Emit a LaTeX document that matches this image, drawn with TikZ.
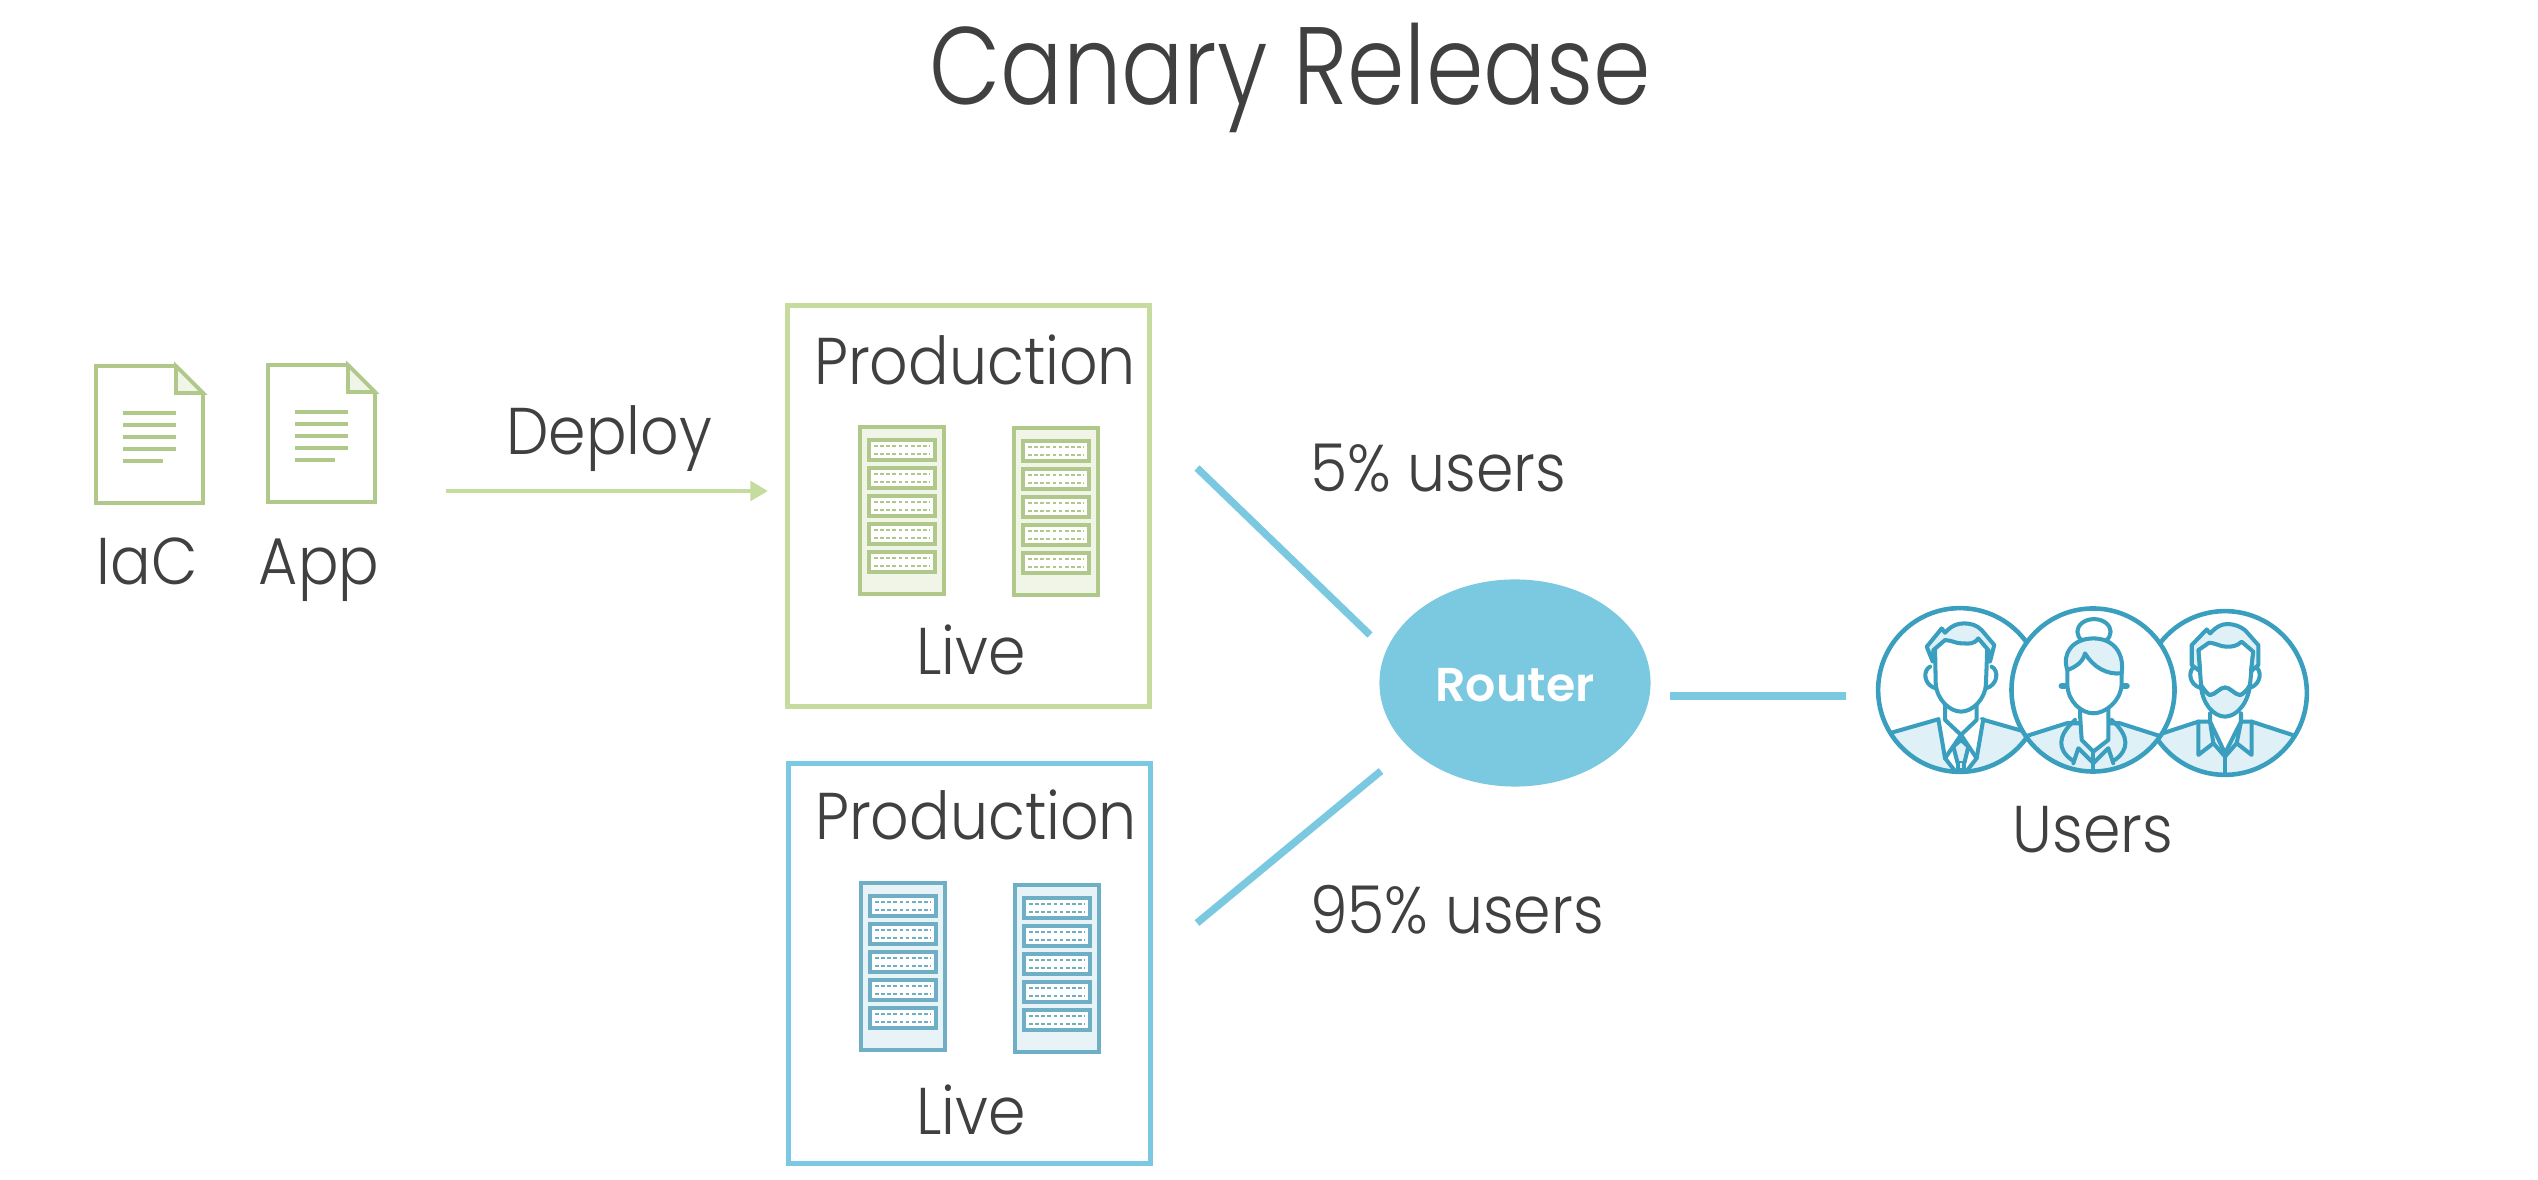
\documentclass[tikz,border=0pt]{standalone}
\usepackage{fontspec}
\setmainfont[FakeStretch=0.91]{Poppins Light}
\newfontfamily\titlefont[FakeStretch=0.84]{Poppins Light}
\newfontfamily\routerfont{Poppins SemiBold}
\usetikzlibrary{shapes.geometric,arrows.meta}
\definecolor{inkgray}{HTML}{404040}
\definecolor{livegreen}{HTML}{C6DC9E}
\definecolor{docgreen}{HTML}{B0C98A}
\definecolor{palegreen}{HTML}{F0F5E8}
\definecolor{liveblue}{HTML}{7AC9E0}
\definecolor{rackblue}{HTML}{6FAFC6}
\definecolor{paleblue}{HTML}{E8F3F7}
\definecolor{userteal}{HTML}{3A9FBF}
\definecolor{userpale}{HTML}{DFF0F7}
% rack: x, y, colour, pale colour
\newcommand{\rackicon}[4]{
    \begin{scope}[shift={(#1,#2)}]
        \draw[draw=#3, fill=#4, line width=1.1pt] (0,0) rectangle (84,167);
        \foreach \sloty in {13,41,69,97,125} {
            \draw[draw=#3, fill=white, line width=1.2pt] (9,\sloty) rectangle (75,\sloty+20);
            \draw[#3, line width=0.8pt, dash pattern=on 1.05pt off 0.7pt] (14,\sloty+6) -- (70,\sloty+6);
            \draw[#3, line width=0.8pt, dash pattern=on 1.05pt off 0.7pt] (14,\sloty+14) -- (70,\sloty+14);
        }
    \end{scope}
}
% document page: x, y
\newcommand{\docicon}[2]{
    \begin{scope}[shift={(#1,#2)}]
        \draw[draw=docgreen, fill=white, line width=1.1pt] (0,0) -- (80,0) -- (107,27) -- (107,137) -- (0,137) -- cycle;
        \draw[draw=docgreen, fill=palegreen, line width=1.1pt] (80,0) -- (107,27) -- (80,27) -- cycle;
        \foreach \liney in {47,59,71,83} {
            \draw[docgreen, line width=1.2pt] (27,\liney) -- (80,\liney);
        }
        \draw[docgreen, line width=1.2pt] (27,95) -- (67,95);
    \end{scope}
}
\begin{document}
\begin{tikzpicture}[
        x=0.01cm, y=-0.01cm,
        label/.style={anchor=base, text=inkgray, inner sep=0pt, font=\fontsize{18.8}{22}\selectfont},
        prodbox/.style={rectangle, fill=white, line width=1.45pt, minimum width=3.61cm, minimum height=4cm, inner sep=0pt},
        feed/.style={draw=liveblue, line width=2.1pt},
        person/.style={draw=userteal, line width=1.15pt, line cap=round, line join=round},
        personfill/.style={fill=userpale, draw=userteal, line width=1.15pt, line join=round},
        ring/.style={draw=userteal, line width=1.3pt}
    ]
    \useasboundingbox (0,0) rectangle (2538,1180);

    \node[anchor=base, text=inkgray, inner sep=0pt, font=\titlefont\fontsize{31.3}{36}\selectfont] (title) at (1290,105) {Canary Release};

    % artifacts
    \docicon{96}{366}
    \docicon{268}{365}
    \node[label] (iac) at (147,585) {IaC};
    \node[label] (app) at (319,585) {App};

    % deploy
    \coordinate (deploystart) at (446,491);
    \coordinate (deployend) at (768,491);
    \draw[draw=livegreen, line width=1.3pt, -{Triangle[length=5pt,width=5.5pt,fill=livegreen]}] (deploystart) -- (deployend);
    \node[label] (deploy) at (609,455) {Deploy};

    % production boxes
    \node[prodbox, draw=livegreen] (canarybox) at (968.5,506) {};
    \node[prodbox, draw=liveblue] (mainbox) at (969.5,963.5) {};
    \node[label] (prodcanary) at (975,385) {Production};
    \node[label] (livecanary) at (971,675) {Live};
    \node[label] (prodmain) at (976,840) {Production};
    \node[label] (livemain) at (971,1135) {Live};
    \rackicon{860}{427}{docgreen}{palegreen}
    \rackicon{1014}{428}{docgreen}{palegreen}
    \rackicon{861}{883}{rackblue}{paleblue}
    \rackicon{1015}{885}{rackblue}{paleblue}

    % router
    \node[ellipse, fill=liveblue, minimum width=2.71cm, minimum height=2.07cm, inner sep=0pt] (router) at (1515,683) {};
    \node[anchor=base, text=white, inner sep=0pt, font=\routerfont\fontsize{13.5}{15}\selectfont] (routerlabel) at (1515,702) {Router};
    \coordinate (canaryend) at (1197,468);
    \coordinate (canaryrouter) at (1370,635);
    \coordinate (mainend) at (1197,923);
    \coordinate (mainrouter) at (1381,771);
    \coordinate (usersrouter) at (1670,696);
    \coordinate (usersend) at (1846,696);
    \draw[feed] (canaryend) -- (canaryrouter);
    \draw[feed] (mainend) -- (mainrouter);
    \draw[feed] (usersrouter) -- (usersend);
    \node[label] (fivepct) at (1438,492) {5\% users};
    \node[label] (ninetyfivepct) at (1457,934) {95\% users};

    % first man
    \begin{scope}[shift={(1960,690)}, x=0.00333cm, y=-0.00333cm]
        \begin{scope}
            \clip (0,0) circle (246);
            \fill[white] (0,0) circle (246);
            \fill[userpale] (-300,155) -- (-65,88) -- (65,88) -- (300,155) -- (300,300) -- (-300,300) -- cycle;
            \draw[person] (-300,155) -- (-65,88);
            \draw[person] (300,155) -- (65,88);
            \draw[person, fill=white] (-65,88) -- (-45,205) -- (-10,250) -- (15,250) -- (50,205) -- (70,88);
            \draw[person] (-45,45) -- (-45,90) -- (3,135) -- (50,90) -- (50,45);
            \draw[person] (-45,205) -- (3,135) -- (50,205);
            \draw[person, fill=userpale] (-20,170) -- (3,150) -- (25,170) -- (13,220) -- (-7,220) -- cycle;
            \draw[person, fill=userpale] (-7,220) -- (-7,240) -- (13,240) -- (13,220);
        \end{scope}
        \draw[person] (-90,-70) .. controls (-112,-60) and (-110,-15) .. (-73,-5);
        \draw[person] (95,-70) .. controls (117,-60) and (115,-15) .. (78,-5);
        \draw[person, fill=white] (-75,-125) -- (-73,-20) .. controls (-70,30) and (-30,65) .. (3,65) .. controls (36,65) and (76,30) .. (78,-20) -- (82,-125);
        \draw[personfill] (-82,-85) -- (-100,-130) -- (-55,-185) -- (-45,-172) .. controls (-25,-195) and (-5,-200) .. (10,-200) .. controls (35,-200) and (50,-195) .. (65,-180) -- (103,-135) -- (90,-85) -- (85,-120) -- (55,-155) .. controls (40,-135) and (25,-140) .. (10,-140) .. controls (-10,-138) and (-25,-150) .. (-45,-150) -- (-80,-120) -- cycle;
        \draw[ring] (0,0) circle (246);
    \end{scope}

    % bearded man
    \begin{scope}[shift={(2225,693)}, x=0.00333cm, y=-0.00333cm]
        \begin{scope}
            \clip (0,0) circle (246);
            \fill[white] (0,0) circle (246);
            \draw[personfill] (-300,158) -- (-80,86) -- (80,86) -- (300,158) -- (300,300) -- (-300,300) -- cycle;
            \draw[person, fill=white] (-45,61) -- (-45,86) -- (0,181) -- (48,86) -- (48,61);
            \draw[person] (-80,86) -- (-80,186) -- (-35,151) -- (-45,86);
            \draw[person] (80,86) -- (80,186) -- (35,151) -- (48,86);
            \draw[person] (-35,151) -- (0,191) -- (35,151);
            \draw[person] (0,181) -- (0,250);
        \end{scope}
        \draw[person] (-90,-80) .. controls (-112,-70) and (-110,-25) .. (-73,-15);
        \draw[person] (90,-80) .. controls (112,-70) and (110,-25) .. (73,-15);
        \draw[personfill] (-72,-24) .. controls (-60,-5) and (-50,5) .. (-45,6) .. controls (-30,5) and (-15,-17) .. (0,-17) .. controls (15,-17) and (30,5) .. (45,6) .. controls (50,5) and (65,-5) .. (75,-24) .. controls (70,30) and (35,71) .. (0,71) .. controls (-35,71) and (-70,30) .. (-72,-24) -- cycle;
        \draw[person, fill=white] (-80,-129) -- (-72,-24) .. controls (-60,-5) and (-50,5) .. (-45,6) .. controls (-30,5) and (-15,-17) .. (0,-17) .. controls (15,-17) and (30,5) .. (45,6) .. controls (50,5) and (65,-5) .. (75,-24) -- (85,-124);
        \draw[personfill] (-75,-65) -- (-100,-84) -- (-100,-144) -- (-55,-191) -- (-45,-179) .. controls (-25,-200) and (-10,-207) .. (5,-207) .. controls (30,-207) and (45,-200) .. (60,-189) -- (100,-144) -- (100,-84) -- (78,-65) -- (85,-124) -- (50,-154) .. controls (35,-140) and (20,-139) .. (5,-139) .. controls (-15,-139) and (-30,-151) .. (-48,-151) -- (-80,-129) -- cycle;
        \draw[ring] (0,0) circle (246);
    \end{scope}

    % woman
    \begin{scope}[shift={(2093,690)}, x=0.00333cm, y=-0.00333cm]
        \begin{scope}
            \clip (0,0) circle (245);
            \fill[white] (0,0) circle (245);
            \draw[personfill] (-300,170) -- (-79,100) -- (81,100) -- (300,170) -- (300,300) -- (-300,300) -- cycle;
            \draw[person, fill=white] (-39,50) -- (-39,75) -- (-34,150) -- (1,185) -- (46,150) -- (46,75) -- (46,50);
            \draw[person] (-54,90) .. controls (-110,140) and (-105,180) .. (-64,210);
            \draw[person] (56,90) .. controls (112,140) and (107,180) .. (66,210);
            \draw[person] (-59,220) -- (-44,175) -- (1,220);
            \draw[person] (61,220) -- (46,175) -- (1,220);
            \draw[person] (1,185) -- (1,235);
        \end{scope}
        \draw[person, fill=white] (3,-175) ellipse (50 and 38);
        \draw[person, line width=1.8pt] (-94,-12) -- (-85,-12);
        \draw[person, line width=1.8pt] (93,-12) -- (101,-12);
        \draw[person, fill=white] (-77,-60) -- (-77,-15) .. controls (-75,35) and (-35,70) .. (1,70) .. controls (37,70) and (82,35) .. (86,-15) -- (86,-50);
        \draw[personfill] (-77,-60) .. controls (-95,-110) and (-60,-155) .. (1,-155) .. controls (62,-155) and (95,-110) .. (86,-50) .. controls (40,-45) and (0,-70) .. (-24,-110) .. controls (-30,-85) and (-50,-70) .. (-77,-60) -- cycle;
        \draw[ring] (0,0) circle (245);
    \end{scope}
    \node[label] (users) at (2093,853) {Users};
\end{tikzpicture}
\end{document}
